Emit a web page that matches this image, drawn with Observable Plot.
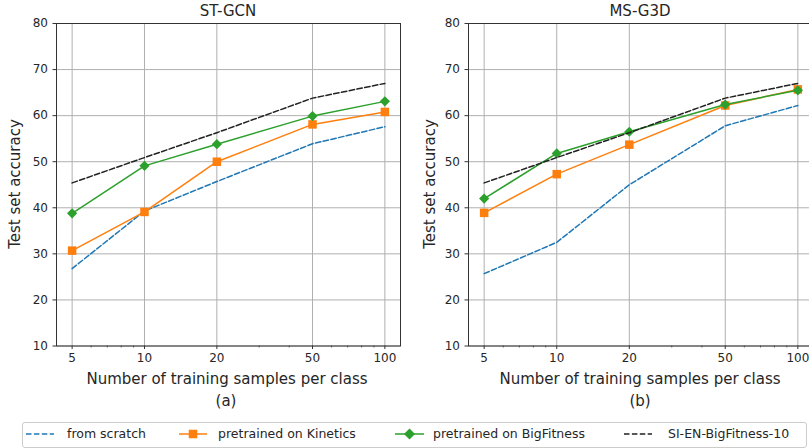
<!DOCTYPE html>
<html><head><meta charset="utf-8">
<script src="https://cdn.jsdelivr.net/npm/d3@7"></script>
<script src="https://cdn.jsdelivr.net/npm/@observablehq/plot@0.6"></script>
<style>
html,body{margin:0;padding:0;overflow:hidden;background:#fff;}
#root{position:relative;width:809px;height:448px;overflow:hidden;font-family:"DejaVu Sans",sans-serif;color:#262626;}
.abs{position:absolute;white-space:nowrap;line-height:1;}
.c{transform:translate(-50%,-50%);}
.vl{transform:translate(-50%,-50%) rotate(-90deg);}
.lg{position:absolute;white-space:nowrap;font-size:12.5px;line-height:1;transform:translateY(-50%);}
</style></head><body><div id="root"></div>
<script>
const samples = [5, 10, 20, 50, 100];
const xTicks = [5, 10, 20, 50, 100];
const xMinorTicks = [6, 7, 8, 9, 30, 40, 60, 70, 80, 90];
const yTicks = [10, 20, 30, 40, 50, 60, 70, 80];
const seriesNames = ["from scratch", "pretrained on Kinetics", "pretrained on BigFitness", "SI-EN-BigFitness-10"];
const seriesColors = ["#1f77b4", "#ff7f0e", "#2ca02c", "#222222"];
const seriesDash = ["5.5,2.4", null, null, "5.5,2.4"];
const seriesSymbol = [null, "square", "diamond2", null];

const stgcnScratch    = [26.8, 39.3, 45.7, 53.9, 57.6];
const stgcnKinetics   = [30.7, 39.1, 50.0, 58.1, 60.8];
const stgcnBigFitness = [38.8, 49.1, 53.8, 59.9, 63.1];
const stgcnSIEN       = [45.4, 50.9, 56.3, 63.8, 67.0];

const msg3dScratch    = [25.7, 32.5, 45.0, 57.8, 62.2];
const msg3dKinetics   = [38.9, 47.3, 53.7, 62.2, 65.7];
const msg3dBigFitness = [42.0, 51.8, 56.5, 62.4, 65.5];
const msg3dSIEN       = [45.4, 50.9, 56.3, 63.8, 67.0];

const root = document.getElementById("root");

function addText(txt, x, y, cls, size) {
  const d = document.createElement("div");
  d.className = "abs " + cls;
  d.style.left = x + "px"; d.style.top = y + "px";
  d.style.fontSize = size + "px";
  d.textContent = txt;
  root.appendChild(d);
}

function panel(seriesData, left, width, mLeft, mRight) {
  const rows = [];
  seriesData.forEach((vals, si) => vals.forEach((v, i) => rows.push({s: si, n: samples[i], acc: v})));
  const dom = [Math.pow(10, Math.log10(5) - 0.065), Math.pow(10, 2 + 0.065)];
  const marks = [
    Plot.gridX(xTicks, {stroke: "#b0b0b0", strokeOpacity: 1, strokeWidth: 1}),
    Plot.gridY(yTicks, {stroke: "#b0b0b0", strokeOpacity: 1, strokeWidth: 1}),
    Plot.axisX(xMinorTicks, {tickSize: 2, text: null, stroke: "#333", strokeWidth: 0.7, label: null}),
    Plot.axisX(xTicks, {tickSize: 3.5, text: null, stroke: "#333", label: null}),
    Plot.text(xTicks, {x: d => d, text: d => String(d), frameAnchor: "bottom", lineAnchor: "top", dy: 7, fill: "#262626", fontSize: 12}),
    Plot.axisY(yTicks, {tickSize: 3.5, tickPadding: 5, stroke: "#333", label: null, fill: "#262626"}),
    Plot.frame({stroke: "#333", strokeWidth: 1})
  ];
  seriesData.forEach((vals, si) => {
    const d = rows.filter(r => r.s === si);
    marks.push(Plot.line(d, {x: "n", y: "acc", stroke: seriesColors[si], strokeWidth: 1.5, strokeDasharray: seriesDash[si]}));
    if (seriesSymbol[si]) {
      marks.push(Plot.dot(d, {x: "n", y: "acc", symbol: seriesSymbol[si], r: si === 1 ? 4.8 : 4.6, fill: seriesColors[si], stroke: "none"}));
    }
  });
  const p = Plot.plot({
    width, height: 372,
    marginLeft: mLeft, marginRight: mRight, marginTop: 23, marginBottom: 26.5,
    style: {fontFamily: "DejaVu Sans", fontSize: "12px", color: "#262626", background: "transparent", overflow: "visible"},
    x: {type: "log", domain: dom},
    y: {domain: [10, 80]},
    marks
  });
  p.style.position = "absolute";
  p.style.left = left + "px";
  p.style.top = "0px";
  root.appendChild(p);
}

panel([stgcnScratch, stgcnKinetics, stgcnBigFitness, stgcnSIEN], 0, 410, 56, 10);
panel([msg3dScratch, msg3dKinetics, msg3dBigFitness, msg3dSIEN], 410, 403, 58, 0);

addText("ST-GCN", 228, 11, "c", 15);
addText("MS-G3D", 640, 11, "c", 15);
addText("Test set accuracy", 15, 184, "vl", 15);
addText("Test set accuracy", 430, 184, "vl", 15);
addText("Number of training samples per class", 227, 379, "c", 15);
addText("Number of training samples per class", 640, 379, "c", 15);
addText("(a)", 226, 401, "c", 15);
addText("(b)", 640, 401, "c", 15);

// legend
const box = document.createElement("div");
box.style.cssText = "position:absolute;left:22px;top:422px;width:783px;height:24px;border:1px solid #cccccc;border-radius:3px;background:#fff;";
root.appendChild(box);
const ns = "http://www.w3.org/2000/svg";
const sw = document.createElementNS(ns, "svg");
sw.setAttribute("width", 809); sw.setAttribute("height", 448);
sw.style.cssText = "position:absolute;left:0;top:0;";
const swX = [[26, 54], [179, 207], [395, 424], [624, 652]];
const txtX = [67, 218, 433, 668];
seriesNames.forEach((name, si) => {
  const [x0, x1] = swX[si];
  const ln = document.createElementNS(ns, "line");
  ln.setAttribute("x1", x0); ln.setAttribute("x2", x1);
  ln.setAttribute("y1", 434); ln.setAttribute("y2", 434);
  ln.setAttribute("stroke", seriesColors[si]); ln.setAttribute("stroke-width", 1.5);
  if (seriesDash[si]) ln.setAttribute("stroke-dasharray", seriesDash[si]);
  sw.appendChild(ln);
  const cx = (x0 + x1) / 2;
  if (seriesSymbol[si] === "square") {
    const r = document.createElementNS(ns, "rect");
    r.setAttribute("x", cx - 4.25); r.setAttribute("y", 434 - 4.25);
    r.setAttribute("width", 8.5); r.setAttribute("height", 8.5);
    r.setAttribute("fill", seriesColors[si]);
    sw.appendChild(r);
  } else if (seriesSymbol[si] === "diamond2") {
    const pg = document.createElementNS(ns, "polygon");
    const h = 5.5;
    pg.setAttribute("points", `${cx},${434 - h} ${cx + h},434 ${cx},${434 + h} ${cx - h},434`);
    pg.setAttribute("fill", seriesColors[si]);
    sw.appendChild(pg);
  }
  const t = document.createElement("div");
  t.className = "lg";
  t.style.left = txtX[si] + "px"; t.style.top = "434px";
  t.textContent = name;
  root.appendChild(t);
});
root.appendChild(sw);
</script></body></html>
